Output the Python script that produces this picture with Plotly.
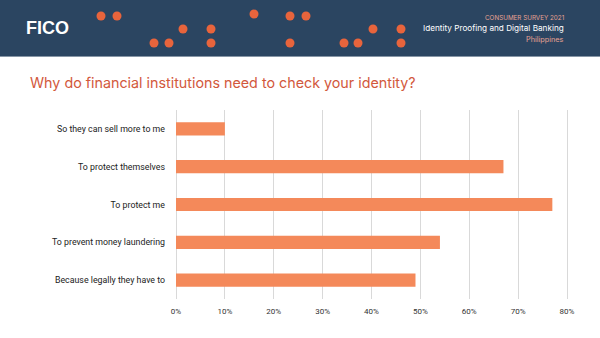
import plotly.graph_objects as go

categories = [
    "So they can sell more to me",
    "To protect themselves",
    "To protect me",
    "To prevent money laundering",
    "Because legally they have to",
]
values = [0.10, 0.67, 0.77, 0.54, 0.49]
tick_vals = [0, 0.1, 0.2, 0.3, 0.4, 0.5, 0.6, 0.7, 0.8]
tick_text = ["0%", "10%", "20%", "30%", "40%", "50%", "60%", "70%", "80%"]

# decorative header dots (pixel positions)
dots_x = [101, 117, 254, 290, 306, 183, 211, 373, 401, 154, 169, 211, 290, 344, 358, 401]
dots_y = [16, 16, 14, 16, 16, 29, 29, 29, 29, 43, 43, 43, 43, 43, 43, 43]

W, H = 600, 338
L, R, T, B = 176, 9, 110, 39
PW = W - L - R
PH = H - T - B
XMAX = PW / 488.75


def px(x):
    return (x - L) / PW


def py(y):
    return (H - B - y) / PH


fig = go.Figure()
fig.add_trace(go.Bar(
    x=values, y=categories, orientation="h",
    marker=dict(color="#f4895a", line=dict(width=0)),
    hoverinfo="x+y",
))

shapes = [
    dict(type="rect", xref="paper", yref="paper", x0=px(0), x1=px(W), y0=py(56), y1=py(0),
         fillcolor="#2b4561", line=dict(width=0), layer="below"),
    dict(type="line", xref="paper", yref="paper", x0=px(0), x1=px(W), y0=py(56.5), y1=py(56.5),
         line=dict(color="#8796a6", width=1)),
]
r = 4.5
for dx, dy in zip(dots_x, dots_y):
    shapes.append(dict(type="circle", xref="paper", yref="paper",
                       x0=px(dx - r), x1=px(dx + r), y0=py(dy + r), y1=py(dy - r),
                       fillcolor="#e8643c", line=dict(width=0)))

annotations = [
    dict(text="<b>FICO</b>", xref="paper", yref="paper", x=px(24), y=py(28),
         xanchor="left", yanchor="middle", showarrow=False,
         font=dict(family="Liberation Sans", size=18, color="white")),
    dict(text="CONSUMER SURVEY 2021", xref="paper", yref="paper", x=px(566), y=py(18),
         xanchor="right", yanchor="middle", showarrow=False,
         font=dict(family="Inter", size=6.3, color="#e7a292")),
    dict(text="Identity Proofing and Digital Banking", xref="paper", yref="paper", x=px(566), y=py(28),
         xanchor="right", yanchor="middle", showarrow=False,
         font=dict(family="Inter", size=8.2, color="white")),
    dict(text="Philippines", xref="paper", yref="paper", x=px(566), y=py(40),
         xanchor="right", yanchor="middle", showarrow=False,
         font=dict(family="Inter", size=7.3, color="#e7a292")),
    dict(text="Why do financial institutions need to check your identity?", xref="paper", yref="paper",
         x=px(28), y=py(82), xanchor="left", yanchor="middle", showarrow=False,
         font=dict(family="Inter", size=14.3, color="#d2583c")),
]

fig.update_layout(
    width=W, height=H,
    margin=dict(l=L, r=R, t=T, b=B, pad=0),
    paper_bgcolor="white", plot_bgcolor="white",
    showlegend=False,
    bargap=0.65,
    shapes=shapes,
    annotations=annotations,
    xaxis=dict(range=[0, XMAX], tickvals=tick_vals, ticktext=tick_text,
               showgrid=True, gridcolor="#d9d9d9", gridwidth=1,
               zeroline=True, zerolinecolor="#d9d9d9", zerolinewidth=1,
               showline=False, ticks="", fixedrange=True, ticklabelstandoff=6,
               tickfont=dict(family="Roboto", size=8, color="#333333")),
    yaxis=dict(autorange="reversed", showgrid=False, zeroline=False, showline=False,
               ticks="", ticklabelstandoff=10, fixedrange=True,
               tickfont=dict(family="Roboto", size=8.8, color="#222222")),
    font=dict(family="Roboto"),
)

fig.write_html("out.html")
